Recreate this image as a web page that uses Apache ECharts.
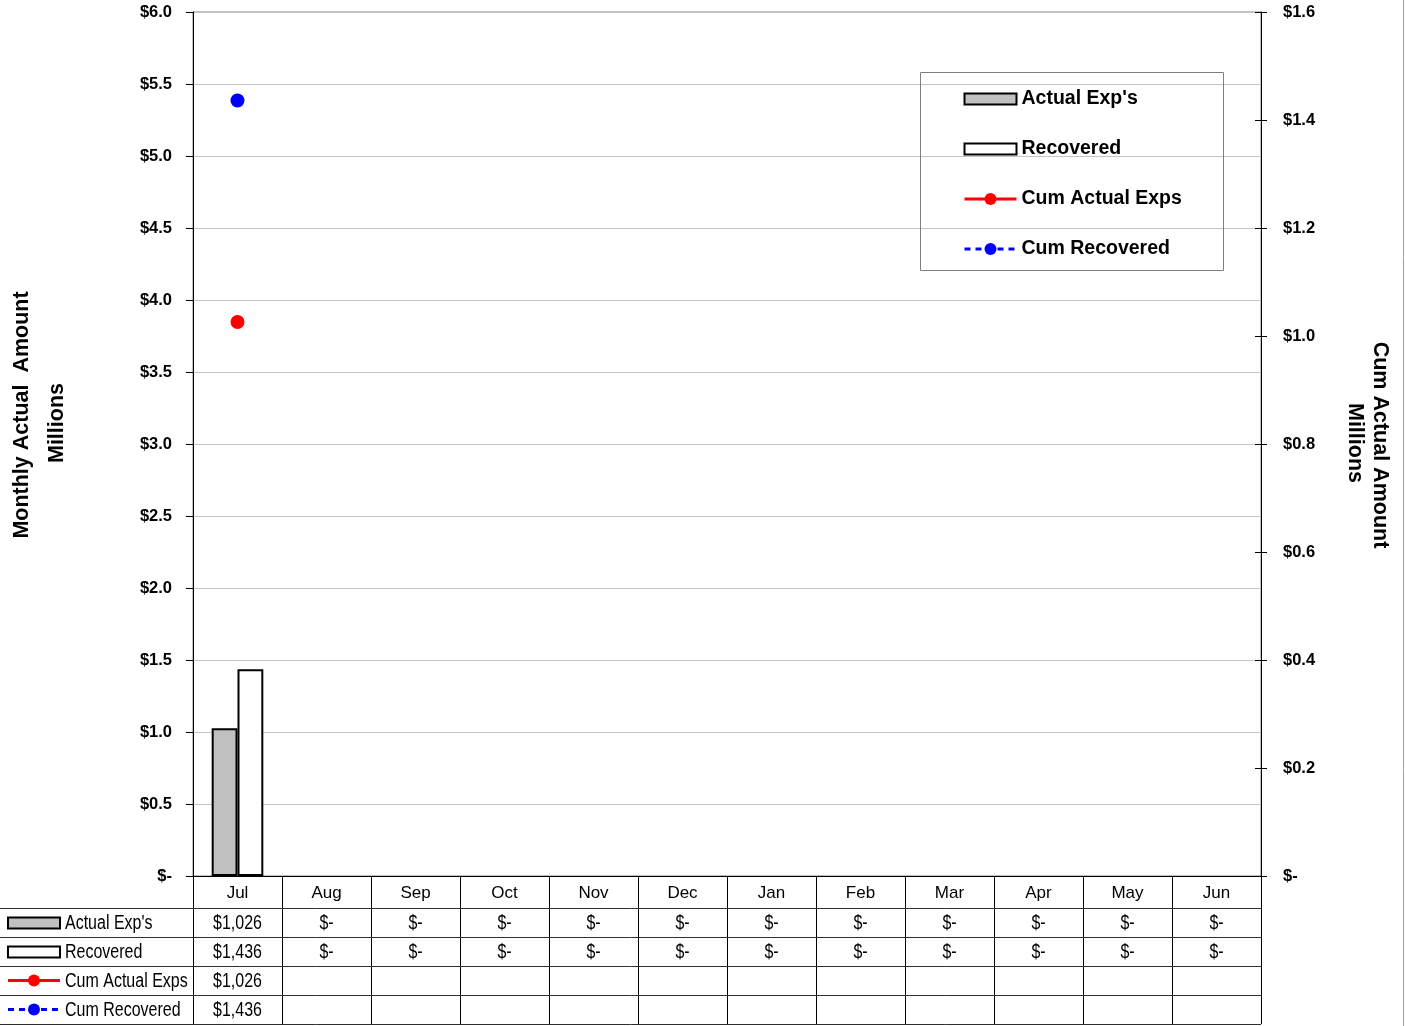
<!DOCTYPE html>
<html>
<head>
<meta charset="utf-8">
<script src="https://cdn.jsdelivr.net/npm/echarts@6/dist/echarts.min.js"></script>
<style>
  html, body { margin: 0; padding: 0; background: #fff; }
  #chart { width: 1405px; height: 1026px; }
</style>
</head>
<body>
<div id="chart"></div>
<script>
// Fiscal-year months (Jul .. Jun)
const months = ['Jul', 'Aug', 'Sep', 'Oct', 'Nov', 'Dec', 'Jan', 'Feb', 'Mar', 'Apr', 'May', 'Jun'];

// Values in $ thousands
const actualExps   = [1026, 0, 0, 0, 0, 0, 0, 0, 0, 0, 0, 0];
const recovered    = [1436, 0, 0, 0, 0, 0, 0, 0, 0, 0, 0, 0];
const cumActual    = [1026, null, null, null, null, null, null, null, null, null, null, null];
const cumRecovered = [1436, null, null, null, null, null, null, null, null, null, null, null];

// Axis scales ($ millions)
const leftAxis  = { min: 0, max: 6.0, interval: 0.5 };
const rightAxis = { min: 0, max: 1.6, interval: 0.2 };

const seriesNames = ["Actual Exp's", 'Recovered', 'Cum Actual Exps', 'Cum Recovered'];

const FONT = "'Liberation Sans', Arial, sans-serif";
const NARROW_SCALE = 0.8;   // condensed look for the table text

const toMillions = v => (v == null ? null : v / 1000);
const axisMoney = v => (v === 0 ? '$-' : '$' + v.toFixed(1));
const tableMoney = v => (v == null ? '' : v === 0 ? '$-' : '$' + v.toLocaleString('en-US'));
// zero-height bars get no outline so they do not thicken the baseline
const barData = arr => arr.map(v => ({
  value: toMillions(v),
  itemStyle: v === 0 ? { borderWidth: 0 } : undefined
}));

const chart = echarts.init(document.getElementById('chart'), null, { renderer: 'canvas' });

const option = {
  backgroundColor: '#fff',
  animation: false,
  grid: {
    left: 193, right: 144, top: 12, bottom: 150,
    show: true, borderColor: '#808080', borderWidth: 1, backgroundColor: 'transparent'
  },
  legend: {
    orient: 'vertical',
    left: 963, top: 89,
    padding: 0,
    itemGap: 30,
    itemWidth: 52, itemHeight: 15,
    symbolKeepAspect: true,
    lineStyle: { width: 3 },
    textStyle: { fontFamily: FONT, fontWeight: 'bold', fontSize: 19.5, lineHeight: 20, color: '#000' },
    data: [
      { name: seriesNames[0], icon: 'path://M0,0H52V11H0Z' },
      { name: seriesNames[1], icon: 'path://M0,0H52V11H0Z' },
      { name: seriesNames[2] },
      { name: seriesNames[3] }
    ]
  },
  xAxis: {
    type: 'category',
    data: months,
    axisLine: { lineStyle: { color: '#000', width: 1 } },
    axisTick: { show: false },
    axisLabel: { fontFamily: FONT, fontSize: 17, lineHeight: 20, color: '#000', margin: 7 }
  },
  yAxis: [
    {
      type: 'value', position: 'left',
      min: leftAxis.min, max: leftAxis.max, interval: leftAxis.interval,
      axisLine: { show: true, lineStyle: { color: '#000', width: 1 } },
      axisTick: { show: true, length: 7, lineStyle: { color: '#000' } },
      axisLabel: { formatter: axisMoney, fontFamily: FONT, fontWeight: 'bold', fontSize: 16.5, color: '#000', margin: 21 },
      splitLine: { show: true, lineStyle: { color: '#c4c4c4', width: 1 } }
    },
    {
      type: 'value', position: 'right',
      min: rightAxis.min, max: rightAxis.max, interval: rightAxis.interval,
      axisLine: { show: true, lineStyle: { color: '#000', width: 1 } },
      axisTick: { show: true, length: 6, lineStyle: { color: '#000' } },
      axisLabel: { formatter: axisMoney, fontFamily: FONT, fontWeight: 'bold', fontSize: 16.5, color: '#000', margin: 22 },
      splitLine: { show: false }
    },
    {
      // inner half of the crossing ticks on the right axis
      type: 'value', position: 'right',
      min: rightAxis.min, max: rightAxis.max, interval: rightAxis.interval,
      axisLine: { show: false },
      axisTick: { show: true, inside: true, length: 6, lineStyle: { color: '#000' } },
      axisLabel: { show: false },
      splitLine: { show: false }
    }
  ],
  series: [
    {
      name: seriesNames[0], type: 'bar', yAxisIndex: 0,
      data: barData(actualExps),
      barGap: '0%', barCategoryGap: '42%',
      itemStyle: { color: '#c0c0c0', borderColor: '#000', borderWidth: 2 }
    },
    {
      name: seriesNames[1], type: 'bar', yAxisIndex: 0,
      data: barData(recovered),
      barGap: '0%', barCategoryGap: '42%',
      itemStyle: { color: '#fff', borderColor: '#000', borderWidth: 2 }
    },
    {
      name: seriesNames[2], type: 'line', yAxisIndex: 1,
      data: cumActual.map(toMillions),
      symbol: 'circle', symbolSize: 14, showSymbol: true,
      itemStyle: { color: '#ff0000' },
      lineStyle: { color: '#ff0000', width: 3 }
    },
    {
      name: seriesNames[3], type: 'line', yAxisIndex: 1,
      data: cumRecovered.map(toMillions),
      symbol: 'circle', symbolSize: 14, showSymbol: true,
      itemStyle: { color: '#0000ff' },
      lineStyle: { color: '#0000ff', width: 3, type: [6, 5] }
    }
  ]
};

chart.setOption(option);

// Data table under the plot, laid out on the category axis
function buildTable() {
  const els = [];
  const c0 = chart.convertToPixel({ xAxisIndex: 0 }, 0);
  const c1 = chart.convertToPixel({ xAxisIndex: 0 }, 1);
  const band = c1 - c0;
  const plotLeft = c0 - band / 2;
  const plotRight = plotLeft + band * months.length;
  const base = chart.convertToPixel({ yAxisIndex: 0 }, 0);
  const headerH = 32, rowH = 29;
  const rows = [actualExps, recovered, cumActual, cumRecovered];
  const tableBottom = base + headerH + rowH * rows.length;
  const cellText = { fontFamily: FONT, fontSize: 20, fill: '#000', verticalAlign: 'middle' };

  // vertical column rules
  for (let k = 0; k <= months.length; k++) {
    const x = Math.round(plotLeft + band * k) + 0.5;
    els.push({ type: 'line', shape: { x1: x, y1: base, x2: x, y2: tableBottom },
      style: { stroke: '#000', lineWidth: 1 }, silent: true });
  }
  // horizontal row rules
  for (let r = 0; r <= rows.length; r++) {
    const y = Math.round(base + headerH + rowH * r) + 0.5;
    els.push({ type: 'line', shape: { x1: 0, y1: y, x2: plotRight, y2: y },
      style: { stroke: '#303030', lineWidth: 1 }, silent: true });
  }

  rows.forEach((vals, r) => {
    const cy = base + headerH + rowH * r + rowH / 2 + 1;
    // row key symbol
    if (r === 0 || r === 1) {
      els.push({ type: 'rect', shape: { x: 8, y: cy - 6, width: 52, height: 11 },
        style: { fill: r === 0 ? '#c0c0c0' : '#fff', stroke: '#000', lineWidth: 2 }, silent: true });
    } else {
      const col = r === 2 ? '#ff0000' : '#0000ff';
      els.push({ type: 'line', shape: { x1: 8, y1: cy - 1, x2: 60, y2: cy - 1 },
        style: { stroke: col, lineWidth: 3, lineDash: r === 3 ? [6, 5] : null }, silent: true });
      els.push({ type: 'circle', shape: { cx: 34, cy: cy - 1, r: 6 }, style: { fill: col }, silent: true });
    }
    els.push({ type: 'text', x: 65, y: cy, scaleX: NARROW_SCALE, silent: true,
      style: Object.assign({ text: seriesNames[r], align: 'left' }, cellText) });
    // cell values
    vals.forEach((v, i) => {
      const t = tableMoney(v);
      if (!t) return;
      const cx = chart.convertToPixel({ xAxisIndex: 0 }, i);
      els.push({ type: 'text', x: cx, y: cy, scaleX: NARROW_SCALE, silent: true,
        style: Object.assign({ text: t, align: 'center' }, cellText) });
    });
  });

  // legend frame
  els.push({ type: 'rect', shape: { x: 920.5, y: 72.5, width: 303, height: 198 },
    style: { fill: 'none', stroke: '#808080', lineWidth: 1 }, silent: true, z: 0 });

  // axis titles
  const titleStyle = { fontFamily: FONT, fontWeight: 'bold', fontSize: 21.5, fill: '#000',
    align: 'center', verticalAlign: 'middle' };
  els.push({ type: 'text', x: 22, y: 415, rotation: Math.PI / 2, silent: true,
    style: Object.assign({ text: 'Monthly Actual  Amount' }, titleStyle) });
  els.push({ type: 'text', x: 57, y: 423, rotation: Math.PI / 2, silent: true,
    style: Object.assign({ text: 'Millions' }, titleStyle) });
  els.push({ type: 'text', x: 1380, y: 445, rotation: -Math.PI / 2, silent: true,
    style: Object.assign({ text: 'Cum Actual Amount' }, titleStyle) });
  els.push({ type: 'text', x: 1355, y: 443, rotation: -Math.PI / 2, silent: true,
    style: Object.assign({ text: 'Millions' }, titleStyle) });

  // outer frame edge on the right
  els.push({ type: 'line', shape: { x1: 1403.5, y1: 0, x2: 1403.5, y2: 1026 },
    style: { stroke: '#a0a0a0', lineWidth: 1 }, silent: true });

  chart.setOption({ graphic: { elements: els } });
}

buildTable();
</script>
</body>
</html>
